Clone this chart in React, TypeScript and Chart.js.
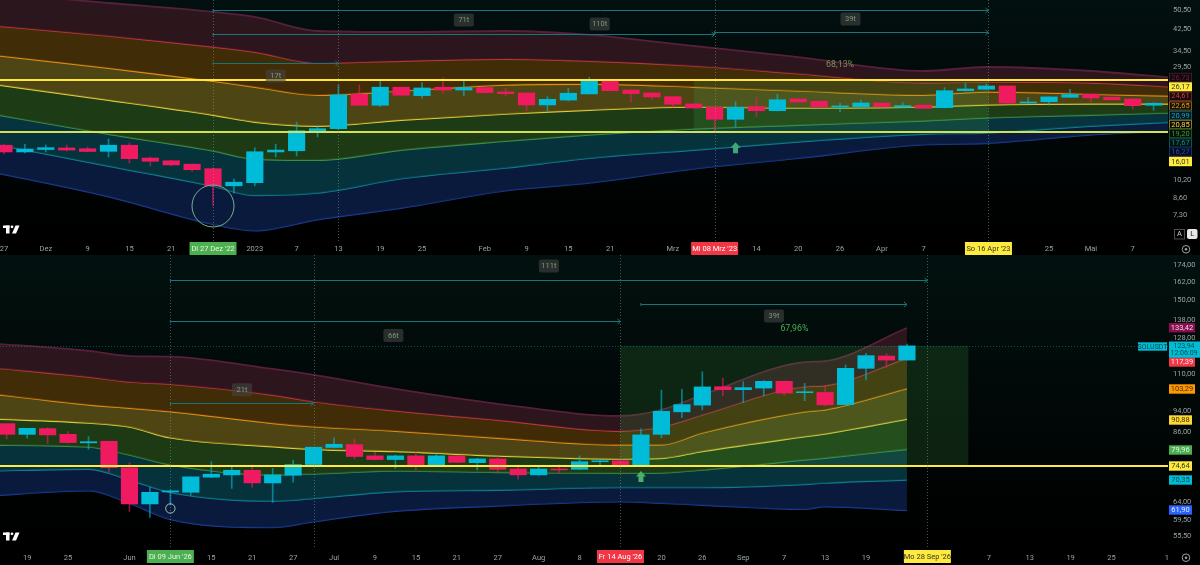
// App.tsx
import { useEffect, useRef } from "react";
import { Chart, registerables } from "chart.js";

Chart.register(...registerables);
Chart.defaults.font.family = "Roboto, sans-serif";

// ---- upper pane (3-day candles, Dec '22 - May '23)
const topOpen = [14.13, 13.26, 13.57, 13.77, 13.67, 13.34, 14.13, 12.52, 12.2, 11.81, 11.32, 9.63, 9.92, 13.26, 13.41, 16.02, 16.52, 22.89, 20.62, 24.45, 22.58, 24.45, 23.81, 24.35, 23.38, 23.16, 20.68, 21.66, 22.95, 26.17, 23.81, 23.16, 22.37, 20.88, 20.23, 18.05, 20.35, 19.58, 21.88, 21.41, 20.29, 20.35, 21.07, 20.29, 20.62, 20.15, 23.66, 23.98, 24.75, 21.07, 21.33, 22.24, 22.89, 22.24, 21.88, 20.62];
const topHigh = [14.3, 14.24, 14.17, 14.17, 13.9, 14.99, 14.44, 12.65, 12.28, 11.84, 11.4, 10.27, 13.81, 14.27, 17.56, 16.96, 24.99, 24.92, 25.93, 24.45, 25.53, 26.69, 26.0, 24.4, 24.21, 23.16, 22.37, 24.21, 26.87, 26.17, 23.81, 23.16, 22.37, 20.88, 20.23, 21.33, 22.24, 22.89, 21.88, 21.41, 20.99, 21.66, 21.07, 21.13, 20.62, 24.35, 25.39, 25.23, 24.75, 22.15, 22.31, 23.98, 22.89, 22.24, 21.88, 21.13];
const topLow = [13.01, 13.13, 13.26, 13.38, 13.26, 12.65, 11.95, 11.62, 11.62, 11.03, 7.96, 8.99, 9.63, 12.65, 12.77, 15.28, 16.42, 20.54, 20.35, 22.67, 22.03, 23.23, 22.52, 23.16, 22.52, 19.58, 19.58, 21.46, 22.89, 23.6, 21.27, 21.81, 20.23, 20.03, 15.97, 16.82, 18.51, 19.52, 21.17, 20.23, 19.4, 20.29, 20.29, 20.23, 19.95, 20.09, 23.6, 23.88, 20.99, 20.99, 20.62, 22.15, 21.27, 21.66, 19.9, 19.65];
const topClose = [13.26, 13.63, 13.81, 13.5, 13.32, 14.13, 12.44, 12.14, 11.73, 11.21, 9.63, 9.96, 13.29, 13.5, 16.21, 16.52, 22.74, 20.62, 24.45, 22.67, 24.28, 23.81, 24.35, 23.23, 23.01, 20.68, 21.81, 23.1, 26.1, 23.66, 23.01, 22.31, 20.82, 20.09, 18.05, 20.23, 19.58, 21.72, 21.27, 20.29, 20.49, 21.07, 20.35, 20.54, 20.03, 23.66, 24.05, 24.75, 21.07, 21.27, 22.31, 22.8, 22.09, 21.72, 20.54, 21.01];

const topKnots = [-1, 5, 10, 12, 15, 19, 24, 28, 33, 38, 44, 47, 52, 56];
const topBands = [
  [60.1, 54.2, 49.8, 47.5, 41.6, 41.2, 41.6, 40.1, 36.1, 32.5, 28.5, 29.6, 28.5, 26.7],
  [44.1, 39.7, 35.8, 34.1, 30.7, 31.3, 31.9, 31.3, 29.9, 27.8, 25.5, 25.7, 25.5, 24.5],
  [33.5, 29.3, 25.9, 24.5, 22.7, 23.6, 25.0, 25.2, 24.5, 23.6, 22.7, 23.4, 22.9, 22.5],
  [25.5, 21.66, 18.8, 17.6, 16.95, 17.93, 19.0, 19.7, 20.3, 20.1, 20.3, 20.7, 20.9, 20.9],
  [19.3, 15.7, 13.4, 12.4, 12.28, 13.5, 14.7, 15.6, 16.5, 17.1, 17.8, 18.3, 18.8, 19.2],
  [14.6, 11.6, 9.6, 8.8, 9.0, 10.3, 11.4, 12.5, 13.5, 14.6, 15.7, 15.9, 16.95, 17.6],
  [11.18, 8.7, 6.7, 6.3, 7.0, 7.8, 9.2, 9.9, 11.3, 12.5, 14.2, 14.4, 15.6, 16.15],
];
const topLevels = [26.17, 16.01];
const topPriceTicks = [50.5, 42.5, 34.5, 29.5, 10.2, 8.6, 7.3];
const topTickPos = [0, 2, 4, 6, 8, 12, 14, 16, 18, 20, 23, 25, 27, 29, 32, 36, 38, 40, 42, 44, 50, 52, 54];
const topTickLabels = ["27", "Dez", "9", "15", "21", "2023", "7", "13", "19", "25", "Feb", "9", "15", "21", "Mrz", "14", "20", "26", "Apr", "7", "25", "Mai", "7"];

// ---- lower pane (3-day candles, May '26 - Sep '26)
const botOpen = [89.25, 85.3, 87.4, 85.3, 82.3, 82.85, 74.1, 63.6, 66.9, 66.8, 71.2, 71.9, 73.3, 69.5, 71.8, 75.1, 80.7, 81.7, 77.9, 76.7, 77.9, 75.0, 77.9, 75.7, 76.9, 73.7, 71.9, 73.7, 73.6, 76.0, 76.3, 74.5, 85.3, 93.8, 96.5, 104.3, 103.0, 103.7, 106.7, 101.7, 101.8, 96.7, 112.7, 118.7, 116.7];
const botHigh = [89.25, 87.5, 87.8, 86.3, 84.5, 82.85, 75.7, 68.2, 67.4, 71.3, 76.0, 74.4, 75.0, 73.9, 76.55, 80.8, 84.1, 83.5, 79.1, 78.2, 79.3, 78.6, 77.9, 77.1, 77.7, 75.0, 74.3, 75.0, 77.9, 76.9, 76.3, 87.3, 102.8, 103.1, 111.1, 108.1, 106.6, 107.0, 106.9, 105.8, 104.8, 114.3, 120.1, 119.8, 124.8];
const botLow = [83.7, 83.9, 82.1, 82.2, 80.1, 72.7, 61.6, 60.1, 63.3, 65.9, 71.1, 67.9, 68.2, 64.0, 69.7, 74.95, 80.5, 76.9, 76.55, 73.9, 73.4, 74.75, 75.7, 73.4, 72.9, 70.6, 71.8, 72.4, 73.5, 74.75, 74.3, 74.4, 84.1, 91.5, 94.6, 100.4, 97.5, 100.5, 100.6, 98.3, 96.2, 96.6, 107.3, 113.2, 116.7];
const botClose = [85.3, 87.5, 85.1, 82.4, 82.7, 74.1, 63.6, 66.8, 67.2, 71.3, 72.1, 73.3, 69.5, 71.9, 75.1, 80.8, 81.8, 77.7, 76.7, 77.9, 75.0, 77.9, 75.8, 76.9, 73.6, 71.9, 73.7, 73.4, 76.0, 76.3, 74.5, 85.1, 94.0, 96.7, 104.2, 103.0, 103.9, 106.7, 101.5, 102.1, 96.6, 112.7, 118.9, 116.7, 123.9];

const botKnots = [-1, 4, 6, 8, 13, 15, 19, 24, 30, 32, 34, 39, 40, 44];
const botBands = [
  [125.4, 121.3, 118.7, 118.4, 112.4, 109.6, 103.3, 97.0, 92.2, 94.6, 100.7, 115.7, 116.2, 133.6],
  [113.3, 108.7, 106.4, 105.4, 100.7, 97.9, 94.2, 90.6, 86.5, 88.0, 92.6, 104.3, 104.8, 117.7],
  [101.5, 96.6, 95.3, 93.9, 89.4, 88.1, 86.5, 84.0, 81.6, 81.6, 85.8, 93.8, 94.6, 103.5],
  [91.2, 89.5, 88.0, 84.1, 81.0, 80.1, 79.4, 77.9, 76.9, 77.1, 79.4, 84.5, 85.5, 91.0],
  [81.6, 80.9, 78.2, 75.0, 71.9, 72.2, 73.1, 72.7, 72.4, 72.5, 73.4, 76.6, 77.2, 80.1],
  [73.1, 73.7, 70.4, 66.8, 64.4, 65.1, 67.0, 67.45, 68.2, 68.2, 68.2, 69.1, 69.5, 70.4],
  [65.8, 67.25, 63.8, 59.6, 57.6, 59.0, 61.7, 63.1, 64.2, 63.8, 63.3, 62.2, 62.9, 61.9],
];
const botLevels = [74.64];
const botPriceTicks = [174, 162, 150, 138, 128, 110, 94, 86, 64, 59.5, 55.5];
const botTickPos = [1, 3, 6, 10, 12, 14, 16, 18, 20, 22, 24, 26, 28, 32, 34, 36, 38, 40, 42, 48, 50, 52, 54, 56.7];
const botTickLabels = ["19", "25", "Jun", "15", "21", "27", "Jul", "9", "15", "21", "27", "Aug", "8", "20", "26", "Sep", "7", "13", "19", "7", "13", "19", "25", "1"];

const UP = "#00bcd9";
const DOWN = "#f01a60";
const UP_WICK = "rgba(0,188,217,.6)";
const DOWN_WICK = "rgba(240,26,96,.6)";
const bandLines = ["#56203a", "#b8363c", "#e08c14", "#e0cc3c", "#3c8c48", "#0f7d8e", "#1c3a90"];
const bandFills = ["rgba(52,24,32,.85)", "rgba(76,51,8,.85)", "rgba(92,80,22,.85)", "rgba(34,68,24,.85)", "rgba(7,59,70,.85)", "rgba(12,30,72,.85)"];

const fmt = (v: number) => v.toFixed(2).replace(".", ",");

function drawLogo(ctx: any, ox: number, oy: number) {
  ctx.fillStyle = "#fff";
  ctx.fillRect(ox, oy, 6.5, 2.5);
  ctx.fillRect(ox + 3, oy, 3.5, 8);
  ctx.beginPath();
  ctx.arc(ox + 9, oy + 1.3, 1.4, 0, Math.PI * 2);
  ctx.fill();
  ctx.beginPath();
  ctx.moveTo(ox + 12.5, oy);
  ctx.lineTo(ox + 16.5, oy);
  ctx.lineTo(ox + 13, oy + 8);
  ctx.lineTo(ox + 9, oy + 8);
  ctx.fill();
}

function drawTag(ctx: any, t: any) {
  const w = t.w ?? 23;
  ctx.fillStyle = t.bg;
  ctx.fillRect(1169, t.y - 4.7, w, 9.4);
  if (t.border) {
    ctx.strokeStyle = t.border;
    ctx.lineWidth = 1;
    ctx.strokeRect(1169.5, t.y - 4.2, w - 1, 8.4);
  }
  ctx.fillStyle = t.fg;
  ctx.font = "7.5px Roboto";
  ctx.textAlign = "center";
  ctx.textBaseline = "middle";
  ctx.fillText(t.text, 1169 + w / 2, t.y + 0.3);
}

function makeDecor(n: any) {
  return {
    id: "paneDecor",
    beforeDatasetDraw(chart: any, args: any) {
      if (args.index !== 2) return; // under the wicks, over the bands
      const { ctx, scales } = chart;
      const x0 = scales.x.getPixelForValue(n.zone[0]);
      const x1 = scales.x.getPixelForValue(n.zone[1]);
      const y0 = scales.y.getPixelForValue(n.zone[2]);
      const y1 = scales.y.getPixelForValue(n.zone[3]);
      ctx.save();
      ctx.fillStyle = "rgba(76,175,80,.17)";
      ctx.fillRect(x0, y0, x1 - x0, y1 - y0);
      ctx.restore();
    },
    afterDatasetsDraw(chart: any) {
      const { ctx, scales, chartArea } = chart;
      const sx = scales.x;
      const sy = scales.y;
      ctx.save();

      // vertical date markers
      ctx.strokeStyle = "rgba(120,170,150,.5)";
      ctx.lineWidth = 1;
      ctx.setLineDash([1, 2]);
      n.markers.forEach((i: number) => {
        const x = Math.round(sx.getPixelForValue(i)) + 0.5;
        ctx.beginPath();
        ctx.moveTo(x, chartArea.top);
        ctx.lineTo(x, chartArea.bottom);
        ctx.stroke();
      });
      if (n.lastPrice) {
        const y = Math.round(sy.getPixelForValue(n.lastPrice)) + 0.5;
        ctx.strokeStyle = "rgba(0,188,212,.4)";
        ctx.beginPath();
        ctx.moveTo(0, y);
        ctx.lineTo(chartArea.right, y);
        ctx.stroke();
      }
      ctx.setLineDash([]);

      // date ranges
      n.ranges.forEach((r: any) => {
        const x0 = sx.getPixelForValue(r.from);
        const x1 = sx.getPixelForValue(r.to);
        const y = Math.round(sy.getPixelForValue(r.price)) + 0.5;
        ctx.strokeStyle = "#17757c";
        ctx.lineWidth = 1;
        ctx.beginPath();
        ctx.moveTo(x0, y - 1.5);
        ctx.lineTo(x0, y + 1.5);
        ctx.moveTo(x0, y);
        ctx.lineTo(x1, y);
        ctx.moveTo(x1 - 3, y - 2.5);
        ctx.lineTo(x1, y);
        ctx.lineTo(x1 - 3, y + 2.5);
        ctx.stroke();
        const lx = sx.getPixelForValue(r.labelAt);
        const ly = sy.getPixelForValue(r.labelPrice);
        ctx.fillStyle = "rgba(68,68,68,.6)";
        ctx.beginPath();
        ctx.roundRect(lx - 10, ly - 6.5, 20, 13, 2);
        ctx.fill();
        ctx.fillStyle = "#7f9a78";
        ctx.font = "7.5px Roboto";
        ctx.textAlign = "center";
        ctx.textBaseline = "middle";
        ctx.fillText(r.label, lx, ly + 0.5);
      });

      // percent label
      ctx.fillStyle = n.percent.color;
      ctx.font = "8.8px Roboto";
      ctx.textAlign = "center";
      ctx.textBaseline = "middle";
      ctx.fillText(n.percent.text, sx.getPixelForValue(n.percent.at), sy.getPixelForValue(n.percent.price));

      // circle round the low
      ctx.strokeStyle = n.ring.color;
      ctx.lineWidth = 1;
      ctx.beginPath();
      ctx.arc(sx.getPixelForValue(n.ring.at), sy.getPixelForValue(n.ring.price), n.ring.r, 0, Math.PI * 2);
      ctx.stroke();

      // buy arrow
      const ax = sx.getPixelForValue(n.arrow.at);
      const ay = sy.getPixelForValue(n.arrow.price);
      ctx.fillStyle = n.arrow.color;
      ctx.beginPath();
      ctx.moveTo(ax, ay);
      ctx.lineTo(ax + 5, ay + 5.5);
      ctx.lineTo(ax + 2.5, ay + 5.5);
      ctx.lineTo(ax + 2.5, ay + 11);
      ctx.lineTo(ax - 2.5, ay + 11);
      ctx.lineTo(ax - 2.5, ay + 5.5);
      ctx.lineTo(ax - 5, ay + 5.5);
      ctx.closePath();
      ctx.fill();

      drawLogo(ctx, 3, chartArea.bottom - 15.5);

      // highlighted dates on the time axis
      n.flags.forEach((f: any) => {
        const x = sx.getPixelForValue(f.at);
        ctx.fillStyle = f.bg;
        ctx.fillRect(x - 23.5, chartArea.bottom + n.flagTop, 47, 13);
        ctx.fillStyle = f.fg;
        ctx.font = "7.5px Roboto";
        ctx.textAlign = "center";
        ctx.textBaseline = "middle";
        ctx.fillText(f.text, x, chartArea.bottom + n.flagTop + 7);
      });

      // price tags
      n.tags.forEach((t: any) => drawTag(ctx, t));
      if (n.ticker) {
        ctx.fillStyle = "#00bcd4";
        ctx.fillRect(1138, 87.3, 29, 8.4);
        ctx.fillRect(1169, 86.5, 31, 16.2);
        ctx.fillStyle = "#08484f";
        ctx.font = "7px Roboto";
        ctx.textAlign = "center";
        ctx.textBaseline = "middle";
        ctx.fillText(n.ticker, 1152.5, 91.8);
        ctx.fillText(fmt(n.lastPrice), 1184, 91);
        ctx.fillText(n.countdown, 1184, 98.3);
      }

      // scale buttons and settings icon
      if (n.buttons) {
        ctx.strokeStyle = "#4a4f4f";
        ctx.strokeRect(1174.5, 229.5, 10, 9.5);
        ctx.fillStyle = "#e8e8e8";
        ctx.beginPath();
        ctx.roundRect(1187, 229, 10.5, 10, 2);
        ctx.fill();
        ctx.font = "7.5px Roboto";
        ctx.textAlign = "center";
        ctx.textBaseline = "middle";
        ctx.fillStyle = "#cfcfcf";
        ctx.fillText("A", 1179.5, 234.5);
        ctx.fillStyle = "#222";
        ctx.fillText("L", 1192.2, 234.5);
      }
      const iy = chartArea.bottom + n.iconDrop;
      ctx.strokeStyle = "#9aa3a3";
      ctx.beginPath();
      ctx.arc(1186, iy, 3.8, 0, Math.PI * 2);
      ctx.stroke();
      ctx.fillStyle = "#9aa3a3";
      ctx.beginPath();
      ctx.arc(1186, iy, 1.3, 0, Math.PI * 2);
      ctx.fill();
      ctx.restore();
    },
  };
}

const topNotes = {
  zone: [33, 47.1, 26.17, 16.01],
  markers: [10, 16, 34, 47.1],
  ranges: [
    { from: 10, to: 47.1, price: 50.96, label: "110t", labelAt: 28.5, labelPrice: 44.4 },
    { from: 10, to: 34, price: 40.46, label: "71t", labelAt: 22, labelPrice: 46.14 },
    { from: 34, to: 47.1, price: 41.2, label: "39t", labelAt: 40.5, labelPrice: 46.6 },
    { from: 10, to: 16, price: 30.6, label: "17t", labelAt: 13, labelPrice: 27.2 },
  ],
  percent: { text: "68,13%", at: 40, price: 30.2, color: "#7f8f5c" },
  ring: { at: 10, price: 7.96, r: 21, color: "#74b08c" },
  arrow: { at: 35, price: 14.55, color: "#3fa878" },
  flags: [
    { at: 10, text: "Di 27 Dez '22", bg: "#4caf50", fg: "#e4f5e0" },
    { at: 34, text: "Mi 08 Mrz '23", bg: "#f23645", fg: "#fff" },
    { at: 47.1, text: "So 16 Apr '23", bg: "#ffeb3b", fg: "#333" },
  ],
  flagTop: 1,
  iconDrop: 8.3,
  buttons: true,
  tags: [
    { text: "26,73", y: 77.5, bg: "#12070c", fg: "#6b2438", border: "#3f1a28" },
    { text: "26,17", y: 87, bg: "#ffeb3b", fg: "#333" },
    { text: "24,61", y: 96.3, bg: "#170a0c", fg: "#c8404c", border: "#6a2428" },
    { text: "22,65", y: 106, bg: "#141005", fg: "#ef9a1c", border: "#8a5a10" },
    { text: "20,99", y: 115.5, bg: "#04181e", fg: "#12a8c8", border: "#0d5a6a" },
    { text: "20,85", y: 124.5, bg: "#0a0a04", fg: "#f0d648", border: "#8a7a20" },
    { text: "19,20", y: 133.5, bg: "#041004", fg: "#3f9a4a", border: "#1e5226" },
    { text: "17,67", y: 143, bg: "#02120f", fg: "#128a94", border: "#0e5058" },
    { text: "16,27", y: 152, bg: "#040a1c", fg: "#2a48b0", border: "#182c66" },
    { text: "16,01", y: 161.5, bg: "#ffeb3b", fg: "#333" },
  ],
};

const botNotes = {
  zone: [30, 47, 123.94, 74.64],
  markers: [8, 15, 30, 45],
  ranges: [
    { from: 8, to: 45, price: 163.6, label: "111t", labelAt: 26.5, labelPrice: 173.6 },
    { from: 8, to: 30, price: 137.6, label: "66t", labelAt: 18.9, labelPrice: 129.4 },
    { from: 8, to: 15, price: 97.4, label: "21t", labelAt: 11.5, labelPrice: 103 },
    { from: 31, to: 44, price: 147.9, label: "39t", labelAt: 37.5, labelPrice: 140.5 },
  ],
  percent: { text: "67,96%", at: 38.5, price: 132.9, color: "#4caf50" },
  ring: { at: 8, price: 62.4, r: 4.7, color: "#a8c4b4" },
  arrow: { at: 31, price: 73.1, color: "#4caf6a" },
  flags: [
    { at: 8, text: "Di 09 Jun '26", bg: "#4caf50", fg: "#e4f5e0" },
    { at: 30, text: "Fr 14 Aug '26", bg: "#f23645", fg: "#fff" },
    { at: 45, text: "Mo 28 Sep '26", bg: "#ffeb3b", fg: "#333" },
  ],
  flagTop: 2,
  iconDrop: 9.7,
  buttons: false,
  lastPrice: 123.94,
  ticker: "SOLUSDT",
  countdown: "12:06:09",
  tags: [
    { text: "133,42", y: 72.7, bg: "#880e4f", fg: "#f5d8e6", w: 26 },
    { text: "117,39", y: 107, bg: "#f23645", fg: "#ffe6e8", w: 26 },
    { text: "103,29", y: 134, bg: "#ff9800", fg: "#4a2c00", w: 26 },
    { text: "90,88", y: 165, bg: "#fdd835", fg: "#3a3200" },
    { text: "79,96", y: 195, bg: "#4caf50", fg: "#e6f7e6" },
    { text: "74,64", y: 211, bg: "#ffeb3b", fg: "#333" },
    { text: "70,35", y: 225, bg: "#00bcd4", fg: "#08484f" },
    { text: "61,90", y: 255, bg: "#2962ff", fg: "#e6edff" },
  ],
};

function Pane(props: any) {
  const canvasRef = useRef<HTMLCanvasElement>(null);

  useEffect(() => {
    const canvas = canvasRef.current;
    if (!canvas) return;
    const { open, high, low, close, knots, bands, levels, levelColors, priceTicks, tickPos, tickLabels, notes } = props;
    const isUp = (i: number) => close[i] >= open[i];

    const datasets: any[] = [
      {
        type: "line",
        label: "levels",
        order: 0,
        data: [],
        pointRadius: 0,
      },
      {
        type: "bar",
        label: "bodies",
        order: 1,
        data: open.map((o: number, i: number) => ({ x: i, y: [o, close[i]] })),
        backgroundColor: open.map((_o: number, i: number) => (isUp(i) ? UP : DOWN)),
        barThickness: 16.5,
        grouped: false,
      },
      {
        type: "bar",
        label: "wicks",
        order: 2,
        data: high.map((h: number, i: number) => ({ x: i, y: [low[i], h] })),
        backgroundColor: open.map((_o: number, i: number) => (isUp(i) ? UP_WICK : DOWN_WICK)),
        barThickness: 1,
        grouped: false,
      },
    ];
    bands.forEach((b: number[], k: number) => {
      datasets.push({
        type: "line",
        order: 3,
        data: b.map((v, i) => ({ x: knots[i], y: v })),
        borderColor: bandLines[k],
        borderWidth: 1.8,
        pointRadius: 0,
        cubicInterpolationMode: "monotone",
        fill: k < bands.length - 1 ? "+1" : false,
        backgroundColor: bandFills[k],
      });
    });
    levels.forEach((v: number, k: number) => {
      datasets.push({
        type: "line",
        order: 0,
        data: [{ x: -5, y: v }, { x: 70, y: v }],
        borderColor: levelColors[k],
        borderWidth: 2,
        pointRadius: 0,
        fill: false,
      });
    });

    const chart = new Chart(canvas, {
      type: "bar",
      data: { datasets },
      plugins: [makeDecor(notes)],
      options: {
        responsive: false,
        animation: false,
        events: [],
        layout: { padding: 0 },
        plugins: { legend: { display: false }, tooltip: { enabled: false } },
        scales: {
          x: {
            type: "linear",
            offset: false,
            bounds: "data",
            min: props.xMin,
            max: props.xMax,
            grid: { display: false, drawTicks: false, offset: false },
            border: { display: false },
            afterBuildTicks: (scale: any) => {
              scale.ticks = tickPos.map((value: number) => ({ value }));
            },
            afterFit: (scale: any) => {
              scale.height = props.axisHeight;
              scale.paddingLeft = 0;
              scale.paddingRight = 0;
            },
            ticks: {
              autoSkip: false,
              maxRotation: 0,
              minRotation: 0,
              padding: props.tickPad,
              color: "#98a2a2",
              font: { size: 7.5 },
              callback: (_v: any, i: number) => tickLabels[i],
            },
          },
          y: {
            type: "logarithmic",
            position: "right",
            bounds: "data",
            min: props.yMin,
            max: props.yMax,
            grid: { display: false, drawTicks: false },
            border: { display: false },
            afterBuildTicks: (scale: any) => {
              scale.ticks = priceTicks.map((value: number) => ({ value }));
            },
            afterFit: (scale: any) => {
              scale.width = 32;
              scale.paddingTop = 0;
              scale.paddingBottom = 0;
            },
            ticks: {
              autoSkip: false,
              padding: 5,
              color: "#98a2a2",
              font: { size: 7.5 },
              callback: (_v: any, i: number) => fmt(priceTicks[i]),
            },
          },
        },
      },
    } as any);

    return () => chart.destroy();
  }, [props]);

  return (
    <canvas
      ref={canvasRef}
      width={1200}
      height={props.height}
      style={{ position: "absolute", left: 0, top: props.top, width: 1200, height: props.height, background: props.bg }}
    />
  );
}

const topPane = {
  top: 0,
  height: 255,
  bg: "linear-gradient(#02100f, #000 92%)",
  axisHeight: 14,
  tickPad: 4,
  xMin: -0.191,
  xMax: 55.69,
  yMin: 5.716,
  yMax: 55.75,
  open: topOpen,
  high: topHigh,
  low: topLow,
  close: topClose,
  knots: topKnots,
  bands: topBands,
  levels: topLevels,
  levelColors: ["#ffe83a", "#d4e157"],
  priceTicks: topPriceTicks,
  tickPos: topTickPos,
  tickLabels: topTickLabels,
  notes: topNotes,
};

const botPane = {
  top: 255,
  height: 310,
  bg: "linear-gradient(#02110f, #000 92%)",
  axisHeight: 17,
  tickPad: 6,
  xMin: -0.327,
  xMax: 56.76,
  yMin: 52.81,
  yMax: 181.8,
  open: botOpen,
  high: botHigh,
  low: botLow,
  close: botClose,
  knots: botKnots,
  bands: botBands,
  levels: botLevels,
  levelColors: ["#ffe94a"],
  priceTicks: botPriceTicks,
  tickPos: botTickPos,
  tickLabels: botTickLabels,
  notes: botNotes,
};

export default function App() {
  return (
    <div style={{ position: "absolute", left: 0, top: 0, width: 1200, height: 565, background: "#000", overflow: "hidden" }}>
      <Pane {...topPane} />
      <Pane {...botPane} />
    </div>
  );
}
